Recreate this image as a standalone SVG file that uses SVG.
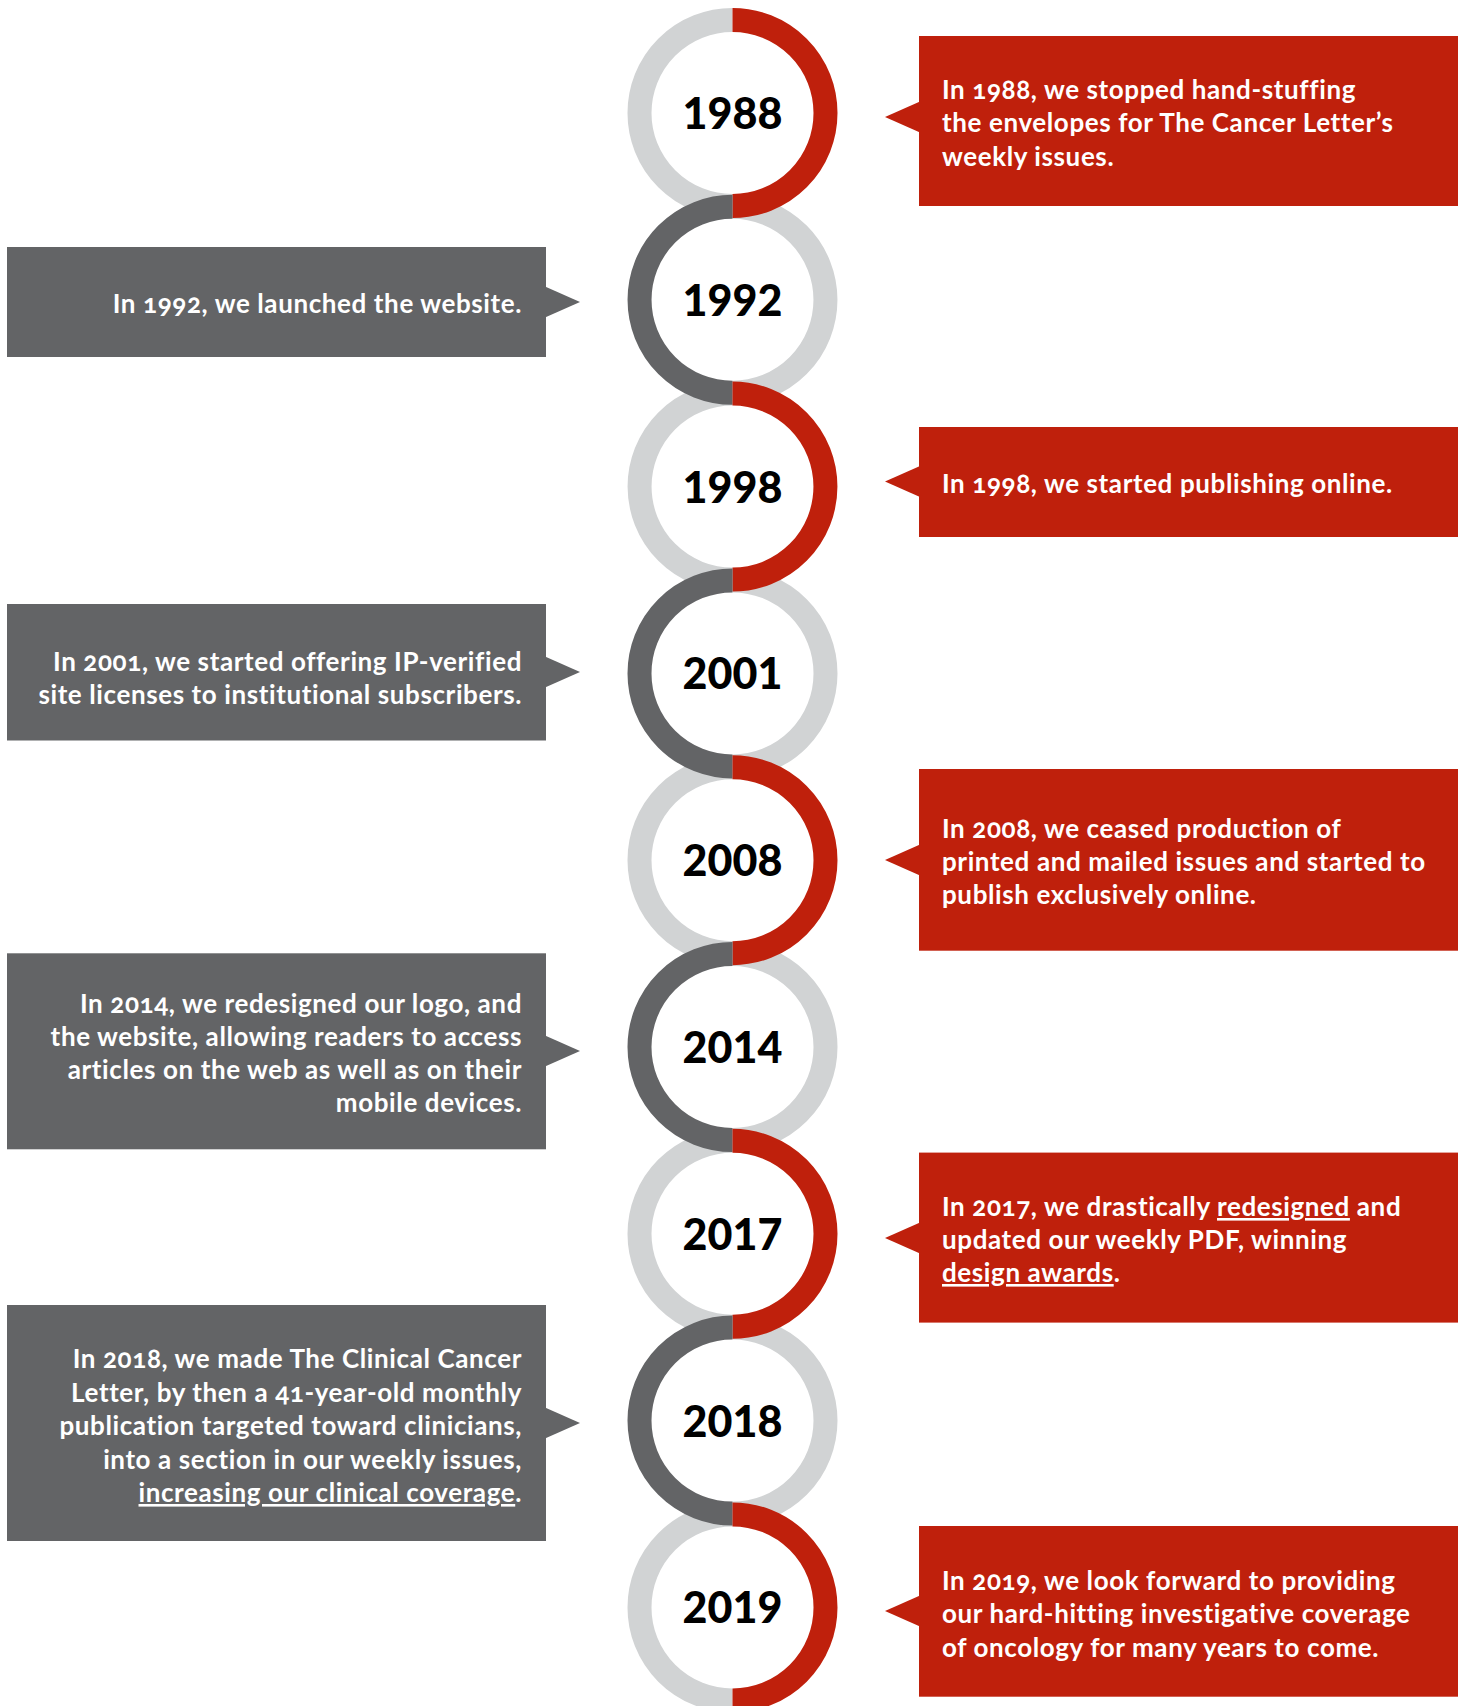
<svg xmlns="http://www.w3.org/2000/svg" width="1466" height="1706" viewBox="0 0 1466 1706">
<style>
.base{fill:none;stroke:#D1D3D4;stroke-width:24}
.red{fill:none;stroke:#BF200C;stroke-width:24}
.dark{fill:none;stroke:#636466;stroke-width:24}
.year{font-family:Lato,"Noto Sans",sans-serif;font-weight:900;font-size:43px;fill:#000;text-anchor:middle}
.boxr{fill:#BF200C}
.boxg{fill:#636466}
.t{font-family:Lato,"Noto Sans",sans-serif;font-weight:700;font-size:26px;letter-spacing:0.6px;fill:#FFFFFF;font-variant-numeric:oldstyle-nums}
.tl{text-anchor:start}
.tr{text-anchor:end}
.u{text-decoration:underline}
</style>
<rect width="1466" height="1706" fill="#FFFFFF"/>
<g id="rings-base">
<path class="base" d="M732.5 20 A93 93 0 0 0 732.5 206"/>
<path class="base" d="M732.5 206.8 A93 93 0 0 1 732.5 392.8"/>
<path class="base" d="M732.5 393.6 A93 93 0 0 0 732.5 579.6"/>
<path class="base" d="M732.5 580.4 A93 93 0 0 1 732.5 766.4"/>
<path class="base" d="M732.5 767.2 A93 93 0 0 0 732.5 953.2"/>
<path class="base" d="M732.5 954 A93 93 0 0 1 732.5 1140"/>
<path class="base" d="M732.5 1140.8 A93 93 0 0 0 732.5 1326.8"/>
<path class="base" d="M732.5 1327.6 A93 93 0 0 1 732.5 1513.6"/>
<path class="base" d="M732.5 1514.4 A93 93 0 0 0 732.5 1700.4"/>
</g>
<g id="node-1988">
<path class="red" d="M732.5 20 A93 93 0 0 1 732.5 206"/>
<text class="year" x="732.5" y="129">1988</text>
<rect class="boxr" x="919" y="36" width="539" height="170"/>
<polygon class="boxr" points="885,117 920,101.5 920,132.5"/>
<text class="t tl" x="942"><tspan x="942" y="99">In 1988, we stopped hand-stuffing</tspan><tspan x="942" y="132">the envelopes for The Cancer Letter’s</tspan><tspan x="942" y="165.5">weekly issues.</tspan></text>
</g>
<g id="node-1992">
<path class="dark" d="M732.5 206.8 A93 93 0 0 0 732.5 392.8"/>
<text class="year" x="732.5" y="315.8">1992</text>
<rect class="boxg" x="7" y="247" width="539" height="110"/>
<polygon class="boxg" points="580,302 545,286.5 545,317.5"/>
<text class="t tr" x="522" y="313">In 1992, we launched the website.</text>
</g>
<g id="node-1998">
<path class="red" d="M732.5 393.6 A93 93 0 0 1 732.5 579.6"/>
<text class="year" x="732.5" y="502.6">1998</text>
<rect class="boxr" x="919" y="427" width="539" height="110"/>
<polygon class="boxr" points="885,481.5 920,466 920,497"/>
<text class="t tl" x="942" y="493">In 1998, we started publishing online.</text>
</g>
<g id="node-2001">
<path class="dark" d="M732.5 580.4 A93 93 0 0 0 732.5 766.4"/>
<text class="year" x="732.5" y="689.4">2001</text>
<rect class="boxg" x="7" y="604" width="539" height="136.5"/>
<polygon class="boxg" points="580,672 545,656.5 545,687.5"/>
<text class="t tr" x="522"><tspan x="522" y="670.5">In 2001, we started offering IP-verified</tspan><tspan x="522" y="703.5">site licenses to institutional subscribers.</tspan></text>
</g>
<g id="node-2008">
<path class="red" d="M732.5 767.2 A93 93 0 0 1 732.5 953.2"/>
<text class="year" x="732.5" y="876.2">2008</text>
<rect class="boxr" x="919" y="769" width="539" height="181.7"/>
<polygon class="boxr" points="885,860 920,844.5 920,875.5"/>
<text class="t tl" x="942"><tspan x="942" y="838.3">In 2008, we ceased production of</tspan><tspan x="942" y="871">printed and mailed issues and started to</tspan><tspan x="942" y="903.5">publish exclusively online.</tspan></text>
</g>
<g id="node-2014">
<path class="dark" d="M732.5 954 A93 93 0 0 0 732.5 1140"/>
<text class="year" x="732.5" y="1063">2014</text>
<rect class="boxg" x="7" y="953.3" width="539" height="196"/>
<polygon class="boxg" points="580,1051 545,1035.5 545,1066.5"/>
<text class="t tr" x="522"><tspan x="522" y="1013">In 2014, we redesigned our logo, and</tspan><tspan x="522" y="1046">the website, allowing readers to access</tspan><tspan x="522" y="1079">articles on the web as well as on their</tspan><tspan x="522" y="1112">mobile devices.</tspan></text>
</g>
<g id="node-2017">
<path class="red" d="M732.5 1140.8 A93 93 0 0 1 732.5 1326.8"/>
<text class="year" x="732.5" y="1249.8">2017</text>
<rect class="boxr" x="919" y="1152.6" width="539" height="170"/>
<polygon class="boxr" points="885,1238 920,1222.5 920,1253.5"/>
<text class="t tl" x="942"><tspan x="942" y="1216">In 2017, we drastically </tspan><tspan class="u">redesigned</tspan><tspan> and</tspan><tspan x="942" y="1249">updated our weekly PDF, winning</tspan><tspan x="942" y="1282" class="u">design awards</tspan><tspan>.</tspan></text>
</g>
<g id="node-2018">
<path class="dark" d="M732.5 1327.6 A93 93 0 0 0 732.5 1513.6"/>
<text class="year" x="732.5" y="1436.6">2018</text>
<rect class="boxg" x="7" y="1305" width="539" height="236"/>
<polygon class="boxg" points="580,1423 545,1407.5 545,1438.5"/>
<text class="t tr" x="522"><tspan x="522" y="1368">In 2018, we made The Clinical Cancer</tspan><tspan x="522" y="1401.5">Letter, by then a 41-year-old monthly</tspan><tspan x="522" y="1435">publication targeted toward clinicians,</tspan><tspan x="522" y="1468.5">into a section in our weekly issues,</tspan><tspan x="522" y="1502" class="u">increasing our clinical coverage</tspan><tspan>.</tspan></text>
</g>
<g id="node-2019">
<path class="red" d="M732.5 1514.4 A93 93 0 0 1 732.5 1700.4"/>
<text class="year" x="732.5" y="1623.4">2019</text>
<rect class="boxr" x="919" y="1526" width="539" height="170.7"/>
<polygon class="boxr" points="885,1611 920,1595.5 920,1626.5"/>
<text class="t tl" x="942"><tspan x="942" y="1590">In 2019, we look forward to providing</tspan><tspan x="942" y="1623.3">our hard-hitting investigative coverage</tspan><tspan x="942" y="1656.7">of oncology for many years to come.</tspan></text>
</g>
</svg>
